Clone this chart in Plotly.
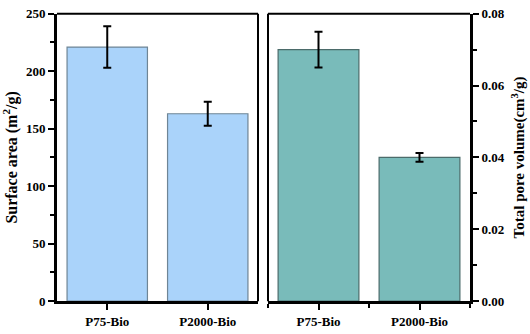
import plotly.graph_objects as go

categories = ["P75-Bio", "P2000-Bio"]
surface_area = [221, 163]
surface_area_err = [18, 10.5]
pore_volume = [0.070, 0.040]
pore_volume_err = [0.005, 0.0012]

W, H = 530, 334
def fx(p): return p / W
def fy(p): return 1 - p / H

FONT = "Liberation Serif"
xs = list(range(len(categories)))

fig = go.Figure()
fig.add_trace(go.Bar(
    x=xs, y=surface_area, width=0.8,
    marker=dict(color="#aad3fa", line=dict(color="#6f8595", width=1.2)),
    error_y=dict(type="data", array=surface_area_err, color="black", thickness=2, width=4),
    xaxis="x", yaxis="y", showlegend=False))
fig.add_trace(go.Bar(
    x=xs, y=pore_volume, width=0.8,
    marker=dict(color="#79bbba", line=dict(color="#4b6b6a", width=1.2)),
    error_y=dict(type="data", array=pore_volume_err, color="black", thickness=2, width=4),
    xaxis="x2", yaxis="y2", showlegend=False))

tickfont = dict(family=FONT, size=13, color="black", weight="bold")
common_x = dict(range=[-0.5, 1.5], tickmode="array", tickvals=xs, ticktext=categories,
                showline=True, linewidth=3, linecolor="black", ticks="outside",
                ticklen=6, tickwidth=2, tickcolor="black", showgrid=False, zeroline=False,
                tickfont=tickfont, fixedrange=True, ticklabeloverflow="allow")

fig.update_layout(
    width=W, height=H, margin=dict(l=0, r=0, t=0, b=0),
    plot_bgcolor="white", paper_bgcolor="white", bargap=0.2,
    xaxis=dict(domain=[fx(57), fx(258)], anchor="y", **common_x),
    xaxis2=dict(domain=[fx(268), fx(470)], anchor="y2",
                minor=dict(tick0=-0.5, dtick=0.5, ticks="outside",
                           ticklen=4, tickwidth=2, tickcolor="black"),
                **common_x),
    yaxis=dict(domain=[fy(308), fy(7)], anchor="x", range=[0, 250],
               tickmode="array", tickvals=[0, 50, 100, 150, 200, 250],
               showline=True, linewidth=3, linecolor="black", ticks="outside",
               ticklen=6, tickwidth=2, tickcolor="black", ticklabeloverflow="allow",
               minor=dict(dtick=25, ticks="outside", ticklen=4, tickwidth=2, tickcolor="black"),
               showgrid=False, zeroline=False, tickfont=tickfont,
               title=dict(text="Surface area (m<sup>2</sup>/g)", standoff=6,
                          font=dict(family=FONT, size=16, color="black", weight="bold"))),
    yaxis2=dict(domain=[fy(308), fy(7)], anchor="x2", side="right", range=[0, 0.08],
                tickmode="array", tickvals=[0, 0.02, 0.04, 0.06, 0.08],
                ticktext=["0.00", "0.02", "0.04", "0.06", "0.08"],
                showline=True, linewidth=3, linecolor="black", ticks="outside",
                ticklen=6, tickwidth=2, tickcolor="black", ticklabeloverflow="allow",
                minor=dict(dtick=0.01, ticks="outside", ticklen=4, tickwidth=2, tickcolor="black"),
                showgrid=False, zeroline=False, tickfont=tickfont,
                title=dict(text="Total pore volume(cm<sup>3</sup>/g)", standoff=10,
                           font=dict(family=FONT, size=15, color="black", weight="bold"))),
)

# thinner frame sides
for xa, ya, sides in [("x", "y", ["top", "right"]), ("x2", "y2", ["top", "left"])]:
    for s in sides:
        if s == "top":
            fig.add_shape(type="line", xref=f"{xa} domain", yref=f"{ya} domain",
                          x0=0, x1=1, y0=1, y1=1, line=dict(color="black", width=2))
        elif s == "right":
            fig.add_shape(type="line", xref=f"{xa} domain", yref=f"{ya} domain",
                          x0=1, x1=1, y0=0, y1=1, line=dict(color="black", width=2))
        else:
            fig.add_shape(type="line", xref=f"{xa} domain", yref=f"{ya} domain",
                          x0=0, x1=0, y0=0, y1=1, line=dict(color="black", width=2))

fig.write_html("out.html")
